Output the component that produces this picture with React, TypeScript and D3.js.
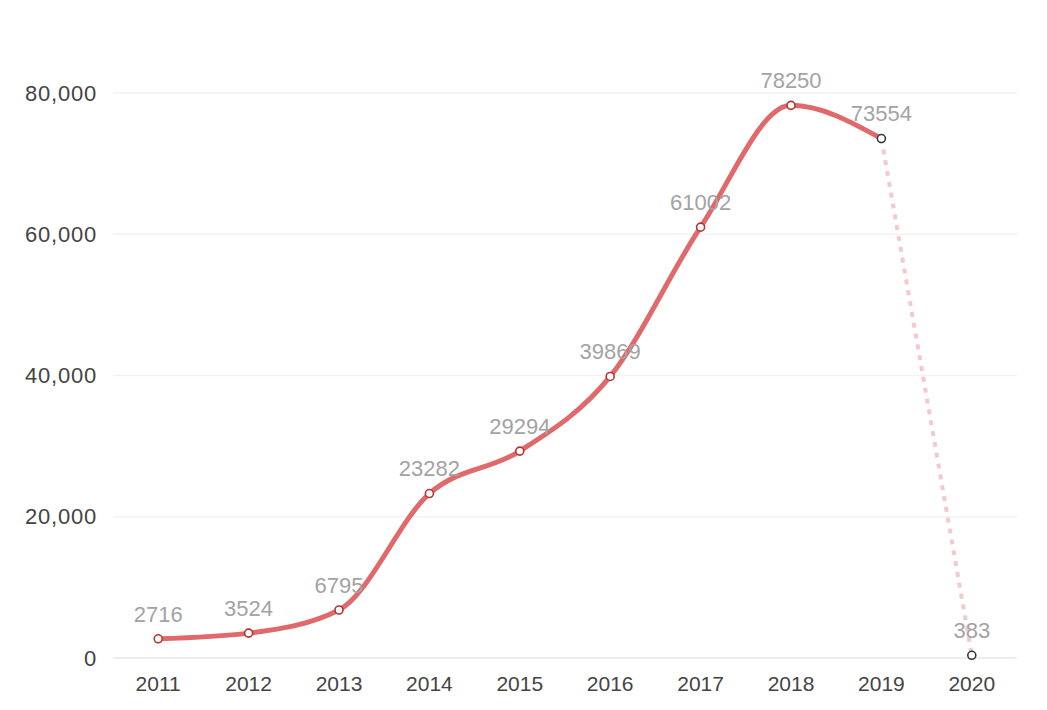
import React from "react";
import * as d3 from "d3";

const years = ["2011", "2012", "2013", "2014", "2015", "2016", "2017", "2018", "2019", "2020"];
const values = [2716, 3524, 6795, 23282, 29294, 39869, 61002, 78250, 73554, 383];
const yTicks = [0, 20000, 40000, 60000, 80000];
const solidCount = 9; // first nine points drawn solid

export default function App() {
  const W = 1047, H = 710;
  const left = 113, right = 1017, top = 93, bottom = 658;
  const x = d3.scaleBand().domain(years).range([left, right]);
  const y = d3.scaleLinear().domain([0, 80000]).range([bottom, top]);
  const cx = (i: number) => (x(years[i]) as number) + x.bandwidth() / 2;
  const pts: [number, number][] = values.map((v, i) => [cx(i), y(v)]);
  const line = d3.line<[number, number]>().x(d => d[0]).y(d => d[1]).curve(d3.curveMonotoneX);
  const solid = line(pts.slice(0, solidCount)) || "";
  const dashed = line(pts.slice(solidCount - 1)) || "";
  const fmt = d3.format(",");
  const font = "'Liberation Sans', Arial, sans-serif";
  return (
    <svg width={W} height={H} style={{ position: "absolute", left: 0, top: 0, background: "#fff" }}>
      {yTicks.map(t => (
        <g key={t}>
          <line x1={left} x2={right} y1={y(t)} y2={y(t)} stroke={t === 0 ? "#ece4ec" : "#f2f2f2"} strokeWidth={1.5} />
          <text x={97} y={y(t)} dy="0.35em" textAnchor="end" fontSize={22} letterSpacing={0.8} fill="#444" fontFamily={font}>{fmt(t)}</text>
        </g>
      ))}
      {years.map((yr, i) => (
        <text key={yr} x={cx(i)} y={684} dy="0.35em" textAnchor="middle" fontSize={21} fill="#444" fontFamily={font}>{yr}</text>
      ))}
      <path d={dashed} fill="none" stroke="#f4c9cd" strokeWidth={4} strokeDasharray="5 6" />
      <path d={solid} fill="none" stroke="#e06a6b" strokeWidth={5} strokeLinecap="round" />
      {pts.map((p, i) => (
        <circle key={i} cx={p[0]} cy={p[1]} r={4} fill="#fff" stroke={i >= solidCount - 1 ? "#2d3a40" : "#b83232"} strokeWidth={1.6} />
      ))}
      {pts.map((p, i) => (
        <text key={"l" + i} x={p[0]} y={p[1] - 25} dy="0.35em" textAnchor="middle" fontSize={22} fill="#a3a3a3" fontFamily={font}>{values[i]}</text>
      ))}
    </svg>
  );
}
